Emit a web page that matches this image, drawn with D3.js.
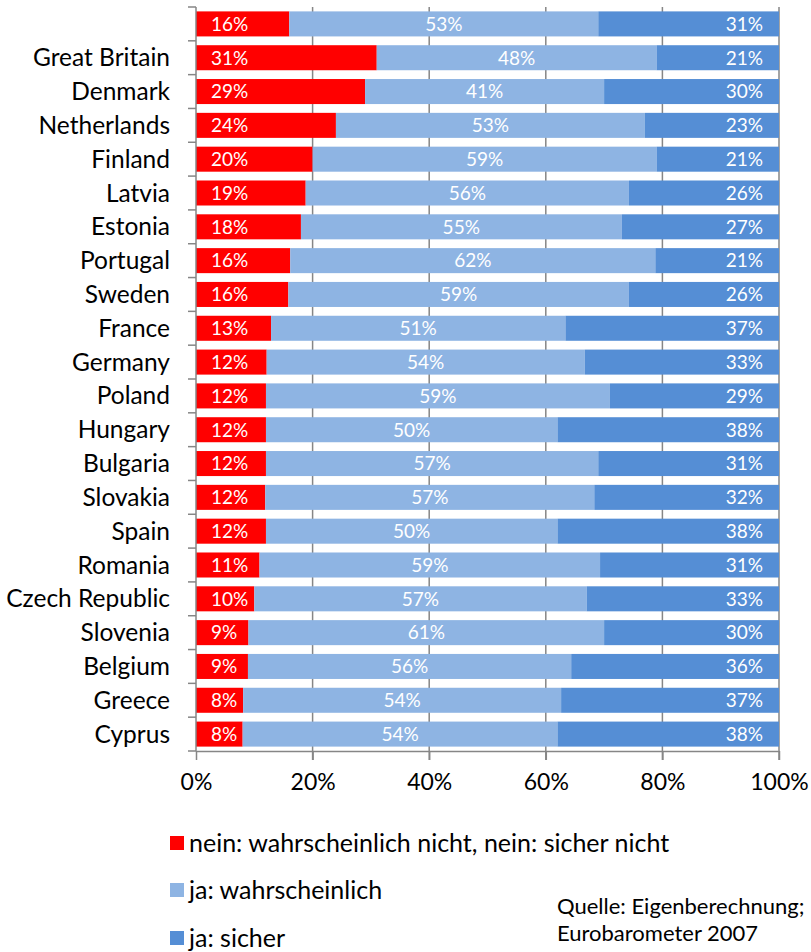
<!DOCTYPE html>
<html><head><meta charset="utf-8">
<script src="https://cdn.jsdelivr.net/npm/d3@7/dist/d3.min.js"></script>
<style>body{margin:0;background:#fff}svg{display:block}</style>
</head><body>
<script>
const categories = ["", "Great Britain","Denmark","Netherlands","Finland","Latvia","Estonia","Portugal","Sweden","France","Germany","Poland","Hungary","Bulgaria","Slovakia","Spain","Romania","Czech Republic","Slovenia","Belgium","Greece","Cyprus"];
const nein = [16,31,29,24,20,19,18,16,16,13,12,12,12,12,12,12,11,10,9,9,8,8];
const jaWahrscheinlich = [53,48,41,53,59,56,55,62,59,51,54,59,50,57,57,50,59,57,61,56,54,54];
const jaSicher = [31,21,30,23,21,26,27,21,26,37,33,29,38,31,32,38,31,33,30,36,37,38];
const seriesNames = ["nein: wahrscheinlich nicht, nein: sicher nicht","ja: wahrscheinlich","ja: sicher"];
const xTicks = [0,0.2,0.4,0.6,0.8,1];
const colors = ["#FF0000","#8EB4E3","#558ED5"];

const W = 811, H = 952;
const svg = d3.select("body").append("svg").attr("width",W).attr("height",H);
const font = "Lato, 'Open Sans', sans-serif";

const keys = ["nein","jaW","jaS"];
const rows = categories.map((c,i)=>({cat:c, nein:nein[i], jaW:jaWahrscheinlich[i], jaS:jaSicher[i]}));
const stack = d3.stack().keys(keys).offset(d3.stackOffsetExpand)(rows);

const x = d3.scaleLinear().domain([0,1]).range([196,779]);
const y = d3.scaleBand().domain(categories.map((c,i)=>i)).range([7,751]).paddingInner(0.26).paddingOuter(0.13);
const axisColor = "#868686";

// gridlines
svg.append("g").selectAll("line").data(xTicks.slice(1)).join("line")
  .attr("x1",d=>x(d)).attr("x2",d=>x(d)).attr("y1",7).attr("y2",760)
  .attr("stroke",axisColor).attr("stroke-width",1.5);

// bars
const g = svg.append("g");
stack.forEach((s,si)=>{
  g.append("g").selectAll("rect").data(s).join("rect")
    .attr("x",d=>x(d[0])).attr("width",d=>x(d[1])-x(d[0]))
    .attr("y",(d,i)=>y(i)).attr("height",y.bandwidth())
    .attr("fill",colors[si]);
});

// data labels
const labG = svg.append("g").attr("font-family",font).attr("font-size",19).attr("fill","#fff");
stack.forEach((s,si)=>{
  labG.append("g").selectAll("text").data(s).join("text")
    .attr("x",d=> si===0 ? x(d[0])+15 : si===1 ? (x(d[0])+x(d[1]))/2 : x(d[1])-16)
    .attr("y",(d,i)=>y(i)+y.bandwidth()/2)
    .attr("dy","0.36em")
    .attr("text-anchor", si===0 ? "start" : si===1 ? "middle" : "end")
    .text((d,i)=>rows[i][keys[si]]+"%");
});

// left axis
svg.append("line").attr("x1",196).attr("x2",196).attr("y1",7).attr("y2",751).attr("stroke",axisColor).attr("stroke-width",1.5);
const bounds = d3.range(categories.length+1).map(i=>7 + i*y.step());
svg.append("g").selectAll("line").data(bounds).join("line")
  .attr("x1",188).attr("x2",196).attr("y1",d=>d).attr("y2",d=>d)
  .attr("stroke",axisColor).attr("stroke-width",1.5);
svg.append("g").attr("font-family",font).attr("font-size",24.5).attr("fill","#000")
  .selectAll("text").data(categories).join("text")
  .attr("x",170).attr("y",(d,i)=>y(i)+y.bandwidth()/2).attr("dy","0.35em")
  .attr("text-anchor","end").text(d=>d);

// bottom axis
const xAxis = d3.axisBottom(x).tickValues(xTicks).tickFormat(d3.format(".0%")).tickSize(9).tickSizeOuter(0).tickPadding(14);
const xg = svg.append("g").attr("transform","translate(0,751)").call(xAxis);
xg.select(".domain").attr("stroke",axisColor).attr("stroke-width",1.5);
xg.selectAll(".tick line").attr("stroke",axisColor).attr("stroke-width",1.5);
xg.selectAll(".tick text").attr("font-family",font).attr("font-size",23).attr("fill","#000");

// legend
const legY = [843, 890, 938];
const lg = svg.append("g").attr("font-family",font).attr("font-size",25).attr("fill","#000");
seriesNames.forEach((n,i)=>{
  lg.append("rect").attr("x",170).attr("y",legY[i]-7).attr("width",14).attr("height",14).attr("fill",colors[i]);
  lg.append("text").attr("x",189).attr("y",legY[i]).attr("dy","0.36em").text(n);
});

// source
const src = svg.append("g").attr("font-family",font).attr("font-size",22).attr("fill","#000");
src.append("text").attr("x",557).attr("y",906).attr("dy","0.36em").text("Quelle: Eigenberechnung;");
src.append("text").attr("x",557).attr("y",933).attr("dy","0.36em").text("Eurobarometer 2007");
</script>
</body></html>
